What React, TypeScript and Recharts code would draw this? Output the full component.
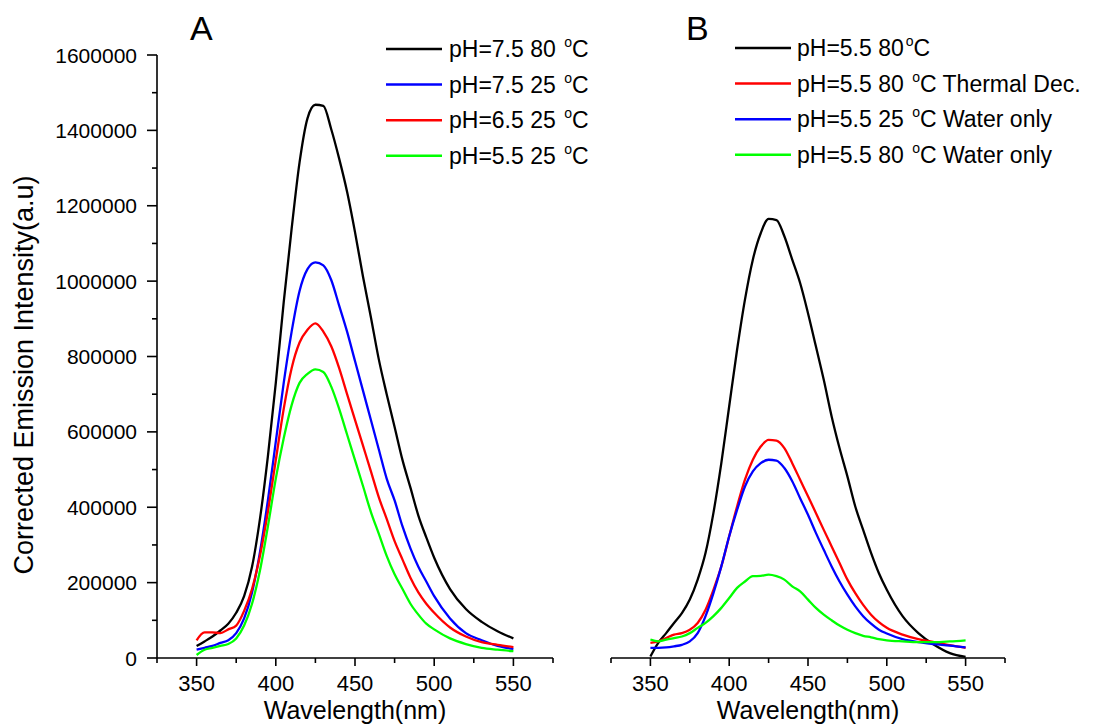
import React from "react";
import { LineChart, Line, XAxis, YAxis } from "recharts";

const FONT = '"Liberation Sans", Arial, Helvetica, sans-serif';

// wavelength grid (nm) shared by every trace
const wavelengths = [
  350, 355, 360, 365, 370, 375, 380, 385, 390, 395, 400, 405, 410, 415, 420,
  425, 430, 435, 440, 445, 450, 455, 460, 465, 470, 475, 480, 485, 490, 495,
  500, 510, 520, 530, 540, 550,
];

// panel A
const ph75hot = [
  32000, 44000, 57000, 73000, 91000, 120000, 164000, 242000, 369000, 535000,
  730000, 944000, 1139000, 1315000, 1432000, 1468000, 1465000, 1403000,
  1325000, 1237000, 1130000, 1013000, 905000, 793000, 700000, 613000, 525000,
  452000, 378000, 320000, 266000, 183000, 130000, 96000, 71000, 52000,
];
const ph75cold = [
  22000, 27000, 32000, 40000, 47000, 66000, 105000, 174000, 281000, 418000,
  574000, 730000, 866000, 974000, 1032000, 1050000, 1042000, 1003000, 935000,
  866000, 788000, 710000, 632000, 554000, 476000, 418000, 349000, 291000,
  242000, 203000, 164000, 105000, 66000, 47000, 32000, 24000,
];
const ph65cold = [
  47000, 68000, 68000, 66000, 76000, 86000, 125000, 183000, 271000, 388000,
  525000, 661000, 769000, 837000, 871000, 888000, 866000, 827000, 769000,
  700000, 632000, 564000, 496000, 427000, 369000, 310000, 261000, 213000,
  174000, 144000, 120000, 81000, 57000, 42000, 35000, 29000,
];
const ph55cold = [
  8000, 22000, 27000, 32000, 37000, 52000, 86000, 144000, 232000, 349000,
  476000, 583000, 671000, 730000, 754000, 766000, 759000, 720000, 661000,
  593000, 525000, 457000, 388000, 330000, 271000, 222000, 183000, 144000,
  115000, 91000, 76000, 52000, 37000, 27000, 22000, 18000,
];

// panel B
const ph55hot = [
  4000, 40000, 66000, 93000, 119000, 155000, 208000, 279000, 385000, 517000,
  668000, 818000, 951000, 1057000, 1127000, 1165000, 1162000, 1119000,
  1057000, 995000, 915000, 827000, 738000, 641000, 557000, 482000, 402000,
  340000, 279000, 225000, 181000, 111000, 66000, 35000, 13000, 3000,
];
const thermalDec = [
  40000, 44000, 53000, 62000, 66000, 75000, 93000, 128000, 181000, 243000,
  323000, 402000, 473000, 526000, 561000, 579000, 577000, 557000, 517000,
  473000, 429000, 385000, 340000, 296000, 252000, 208000, 172000, 141000,
  115000, 95000, 80000, 62000, 50000, 42000, 34000, 27000,
];
const waterCold = [
  27000, 27000, 28000, 31000, 35000, 44000, 66000, 111000, 172000, 243000,
  323000, 393000, 455000, 495000, 517000, 526000, 524000, 504000, 469000,
  424000, 380000, 332000, 287000, 243000, 203000, 168000, 137000, 111000,
  91000, 75000, 65000, 50000, 42000, 37000, 33000, 28000,
];
const waterHot = [
  49000, 44000, 49000, 53000, 57000, 66000, 80000, 93000, 111000, 133000,
  159000, 186000, 203000, 217000, 218000, 221000, 217000, 208000, 190000,
  177000, 155000, 133000, 115000, 100000, 86000, 75000, 66000, 59000, 55000,
  50000, 47000, 44000, 42000, 42000, 44000, 47000,
];

const xTicks = [325, 350, 375, 400, 425, 450, 475, 500, 525, 550, 575];
const yTicks = [
  0, 100000, 200000, 300000, 400000, 500000, 600000, 700000, 800000, 900000,
  1000000, 1100000, 1200000, 1300000, 1400000, 1500000, 1600000,
];

const legendA = [
  { pre: "pH=7.5 80 ", post: "C", color: "#000000" },
  { pre: "pH=7.5 25 ", post: "C", color: "#0000ff" },
  { pre: "pH=6.5 25 ", post: "C", color: "#ff0000" },
  { pre: "pH=5.5 25 ", post: "C", color: "#00ff00" },
];
const legendB = [
  { pre: "pH=5.5 80", post: "C", color: "#000000" },
  { pre: "pH=5.5 80 ", post: "C Thermal Dec.", color: "#ff0000" },
  { pre: "pH=5.5 25 ", post: "C Water only", color: "#0000ff" },
  { pre: "pH=5.5 80 ", post: "C Water only", color: "#00ff00" },
];

const dataA = wavelengths.map((w, i) => ({
  w,
  a: ph75hot[i],
  b: ph75cold[i],
  c: ph65cold[i],
  d: ph55cold[i],
}));
const dataB = wavelengths.map((w, i) => ({
  w,
  a: ph55hot[i],
  b: thermalDec[i],
  c: waterCold[i],
  d: waterHot[i],
}));

const YTick = (props: any) => {
  const { x, y, payload } = props;
  const major = payload.value % 200000 === 0;
  return (
    <g>
      <line x1={x - (major ? 10 : 5)} x2={x} y1={y} y2={y} stroke="#000" strokeWidth={1.6} />
      {major && (
        <text x={x - 20} y={y} dy="0.36em" textAnchor="end" fontSize={21} fontFamily={FONT} fill="#000">
          {payload.value}
        </text>
      )}
    </g>
  );
};

const XTick = (props: any) => {
  const { x, y, payload } = props;
  const major = payload.value % 50 === 0 && payload.value >= 350 && payload.value <= 550;
  return (
    <g>
      <line x1={x} x2={x} y1={y} y2={y + (major ? 8 : 5)} stroke="#000" strokeWidth={1.6} />
      {major && (
        <text x={x} y={y + 33} textAnchor="middle" fontSize={22} fontFamily={FONT} fill="#000">
          {payload.value}
        </text>
      )}
    </g>
  );
};

const Legend = ({ items, lineX, textX, top }: any) => (
  <g>
    {items.map((it: any, i: number) => {
      const y = top + i * 35.6;
      return (
        <g key={i}>
          <line x1={lineX} x2={lineX + 56} y1={y} y2={y} stroke={it.color} strokeWidth={2.5} />
          <text x={textX} y={y + 8} fontSize={23} fontFamily={FONT} fill="#000">
            {it.pre}
            <tspan fontSize={14} dx={2} dy={-10}>o</tspan>
            <tspan dy={10}>{it.post}</tspan>
          </text>
        </g>
      );
    })}
  </g>
);

const Panel = ({ data, colors, showY, width, margin }: any) => (
  <LineChart width={width} height={726} data={data} margin={margin}>
    <XAxis
      dataKey="w"
      type="number"
      domain={[325, 575]}
      ticks={xTicks}
      interval={0}
      height={30}
      tickSize={0}
      tickMargin={0}
      tick={<XTick />}
      axisLine={{ stroke: "#000", strokeWidth: 1.6 }}
      allowDataOverflow
    />
    <YAxis
      type="number"
      domain={[0, 1600000]}
      ticks={yTicks}
      interval={0}
      width={100}
      hide={!showY}
      tickSize={0}
      tickMargin={0}
      tick={<YTick />}
      axisLine={{ stroke: "#000", strokeWidth: 1.6 }}
      allowDataOverflow
    />
    {["a", "b", "c", "d"].map((k, i) => (
      <Line
        key={k}
        dataKey={k}
        type="monotone"
        stroke={colors[i]}
        strokeWidth={2.3}
        dot={false}
        isAnimationActive={false}
      />
    ))}
  </LineChart>
);

export default function App() {
  return (
    <div style={{ position: "fixed", left: 0, top: 0, width: 1101, height: 726, background: "#fff" }}>
      <div style={{ position: "absolute", left: 0, top: 0 }}>
        <Panel
          data={dataA}
          colors={["#000000", "#0000ff", "#ff0000", "#00ff00"]}
          showY
          width={570}
          margin={{ top: 55, right: 17, bottom: 38, left: 57 }}
        />
      </div>
      <div style={{ position: "absolute", left: 570, top: 0 }}>
        <Panel
          data={dataB}
          colors={["#000000", "#ff0000", "#0000ff", "#00ff00"]}
          showY={false}
          width={531}
          margin={{ top: 55, right: 96, bottom: 38, left: 41 }}
        />
      </div>
      <svg
        width={1101}
        height={726}
        style={{ position: "absolute", left: 0, top: 0, pointerEvents: "none" }}
      >
        <text x={190} y={40} fontSize={34} fontFamily={FONT} fill="#000">A</text>
        <text x={686} y={40} fontSize={34} fontFamily={FONT} fill="#000">B</text>
        <text
          x={33}
          y={375}
          transform="rotate(-90 33 375)"
          textAnchor="middle"
          fontSize={27}
          fontFamily={FONT}
          fill="#000"
        >
          Corrected Emission Intensity(a.u)
        </text>
        <text x={355} y={719} textAnchor="middle" fontSize={25} fontFamily={FONT} fill="#000">
          Wavelength(nm)
        </text>
        <text x={808} y={719} textAnchor="middle" fontSize={25} fontFamily={FONT} fill="#000">
          Wavelength(nm)
        </text>
        <Legend items={legendA} lineX={386} textX={449} top={49} />
        <Legend items={legendB} lineX={735} textX={797} top={48} />
      </svg>
    </div>
  );
}
